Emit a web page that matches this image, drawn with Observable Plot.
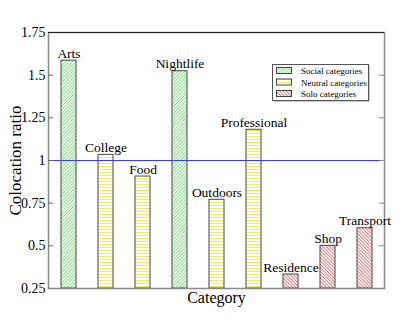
<!DOCTYPE html>
<html><head><meta charset="utf-8">
<script src="https://cdn.jsdelivr.net/npm/d3@7"></script>
<script src="https://cdn.jsdelivr.net/npm/@observablehq/plot@0.6"></script>
<style>body{margin:0;background:#fff} #chart{width:415px;height:321px}</style>
</head><body><div id="chart"></div>
<script>
const categories = ["Arts","College","Food","Nightlife","Outdoors","Professional","Residence","Shop","Transport"];
const ratios = [1.585,1.033,0.906,1.523,0.770,1.180,0.332,0.500,0.603];
const groups = ["Social","Neutral","Neutral","Social","Neutral","Neutral","Solo","Solo","Solo"];
const groupNames = ["Social","Neutral","Solo"];
const legendLabels = ["Social categories","Neutral categories","Solo categories"];
const yTicks = [0.25,0.5,0.75,1,1.25,1.5,1.75];
const innerTicks = [0.5,0.75,1,1.25,1.5];
const referenceLevel = 1;
const yLabel = "Colocation ratio";
const xLabel = "Category";

const data = categories.map((c,i)=>({category:c, ratio:ratios[i], group:groups[i]}));
const patternId = {Social:"hatchSocial", Neutral:"hatchNeutral", Solo:"hatchSolo"};

const W = 415, H = 321, ML = 48, MR = 31, MT = 32, MB = 33;
const innerW = W - ML - MR;
const FONT = "'Liberation Serif', 'Times New Roman', serif";

const chart = Plot.plot({
  width: W, height: H,
  marginLeft: ML, marginRight: MR, marginTop: MT, marginBottom: MB,
  style: {fontFamily: FONT, fontSize: "14px", color: "black", background: "white", overflow: "visible"},
  x: {type: "band", domain: categories, paddingInner: 0.6, paddingOuter: 0.3, axis: null},
  y: {domain: [yTicks[0], yTicks[yTicks.length-1]], axis: null},
  color: {type: "identity"},
  marks: [
    Plot.barY(data, {x: "category", y1: () => yTicks[0], y2: "ratio",
      fill: d => `url(#${patternId[d.group]})`, stroke: "#444", strokeWidth: 1}),
    Plot.ruleY([referenceLevel], {stroke: "#3a3aff", strokeWidth: 1}),
    Plot.frame({stroke: "#8a8a8a", strokeWidth: 1.5}),
    Plot.ruleY([yTicks[yTicks.length-1]], {stroke: "#222", strokeWidth: 1}),
    Plot.ruleY(innerTicks, {stroke: "#666", strokeWidth: 1, insetRight: innerW - 5}),
    Plot.ruleY(innerTicks, {stroke: "#888", strokeWidth: 1, insetLeft: innerW - 5}),
    Plot.axisY(yTicks, {anchor: "left", tickSize: 0, tickPadding: 3, tickFormat: d => String(d), fontSize: 14, label: null}),
    Plot.text(data, {x: "category", y: "ratio", text: "category", dy: -3, lineAnchor: "bottom", fontSize: 13.5, fill: "black"}),
    Plot.text([yLabel], {text: d => d, frameAnchor: "left", rotate: -90, dx: -28, lineAnchor: "bottom", textAnchor: "middle", fontSize: 17, fill: "black"}),
    Plot.text([xLabel], {text: d => d, frameAnchor: "bottom", dy: 14, lineAnchor: "bottom", fontSize: 16, fill: "black"})
  ]
});

// patterns
const svg = d3.select(chart);
const defs = svg.insert("defs", ":first-child");
function pat(id, size, angle, color, sw) {
  const p = defs.append("pattern").attr("id", id).attr("patternUnits", "userSpaceOnUse")
    .attr("width", size).attr("height", size)
    .attr("patternTransform", `rotate(${angle})`);
  p.append("rect").attr("width", size).attr("height", size).attr("fill", "#ffffff");
  p.append("line").attr("x1", 0).attr("y1", size / 2).attr("x2", size).attr("y2", size / 2)
    .attr("stroke", color).attr("stroke-width", sw);
}
pat("hatchSocial", 2.4, -45, "#5ee05e", 0.75);
pat("hatchNeutral", 3, 0, "#f4ee5a", 1);
pat("hatchSolo", 2.4, 45, "#ef5a5a", 0.75);

// legend
const lg = svg.append("g");
lg.append("rect").attr("x", 273.5).attr("y", 65.5).attr("width", 96).attr("height", 36).attr("fill", "#999");
lg.append("rect").attr("x", 272.5).attr("y", 64.5).attr("width", 96).attr("height", 36).attr("fill", "white").attr("stroke", "#555");
groupNames.forEach((g, i) => {
  const cy = 71 + i * 11.5;
  lg.append("rect").attr("x", 276.5).attr("y", cy - 3.5).attr("width", 15).attr("height", 6)
    .attr("fill", `url(#${patternId[g]})`).attr("stroke", "#444");
  lg.append("text").attr("x", 301).attr("y", cy + 3).text(legendLabels[i])
    .attr("font-family", "Liberation Serif").attr("font-size", 9).attr("text-anchor", "start").attr("fill", "black");
});

document.getElementById("chart").appendChild(chart);
</script>
</body></html>
